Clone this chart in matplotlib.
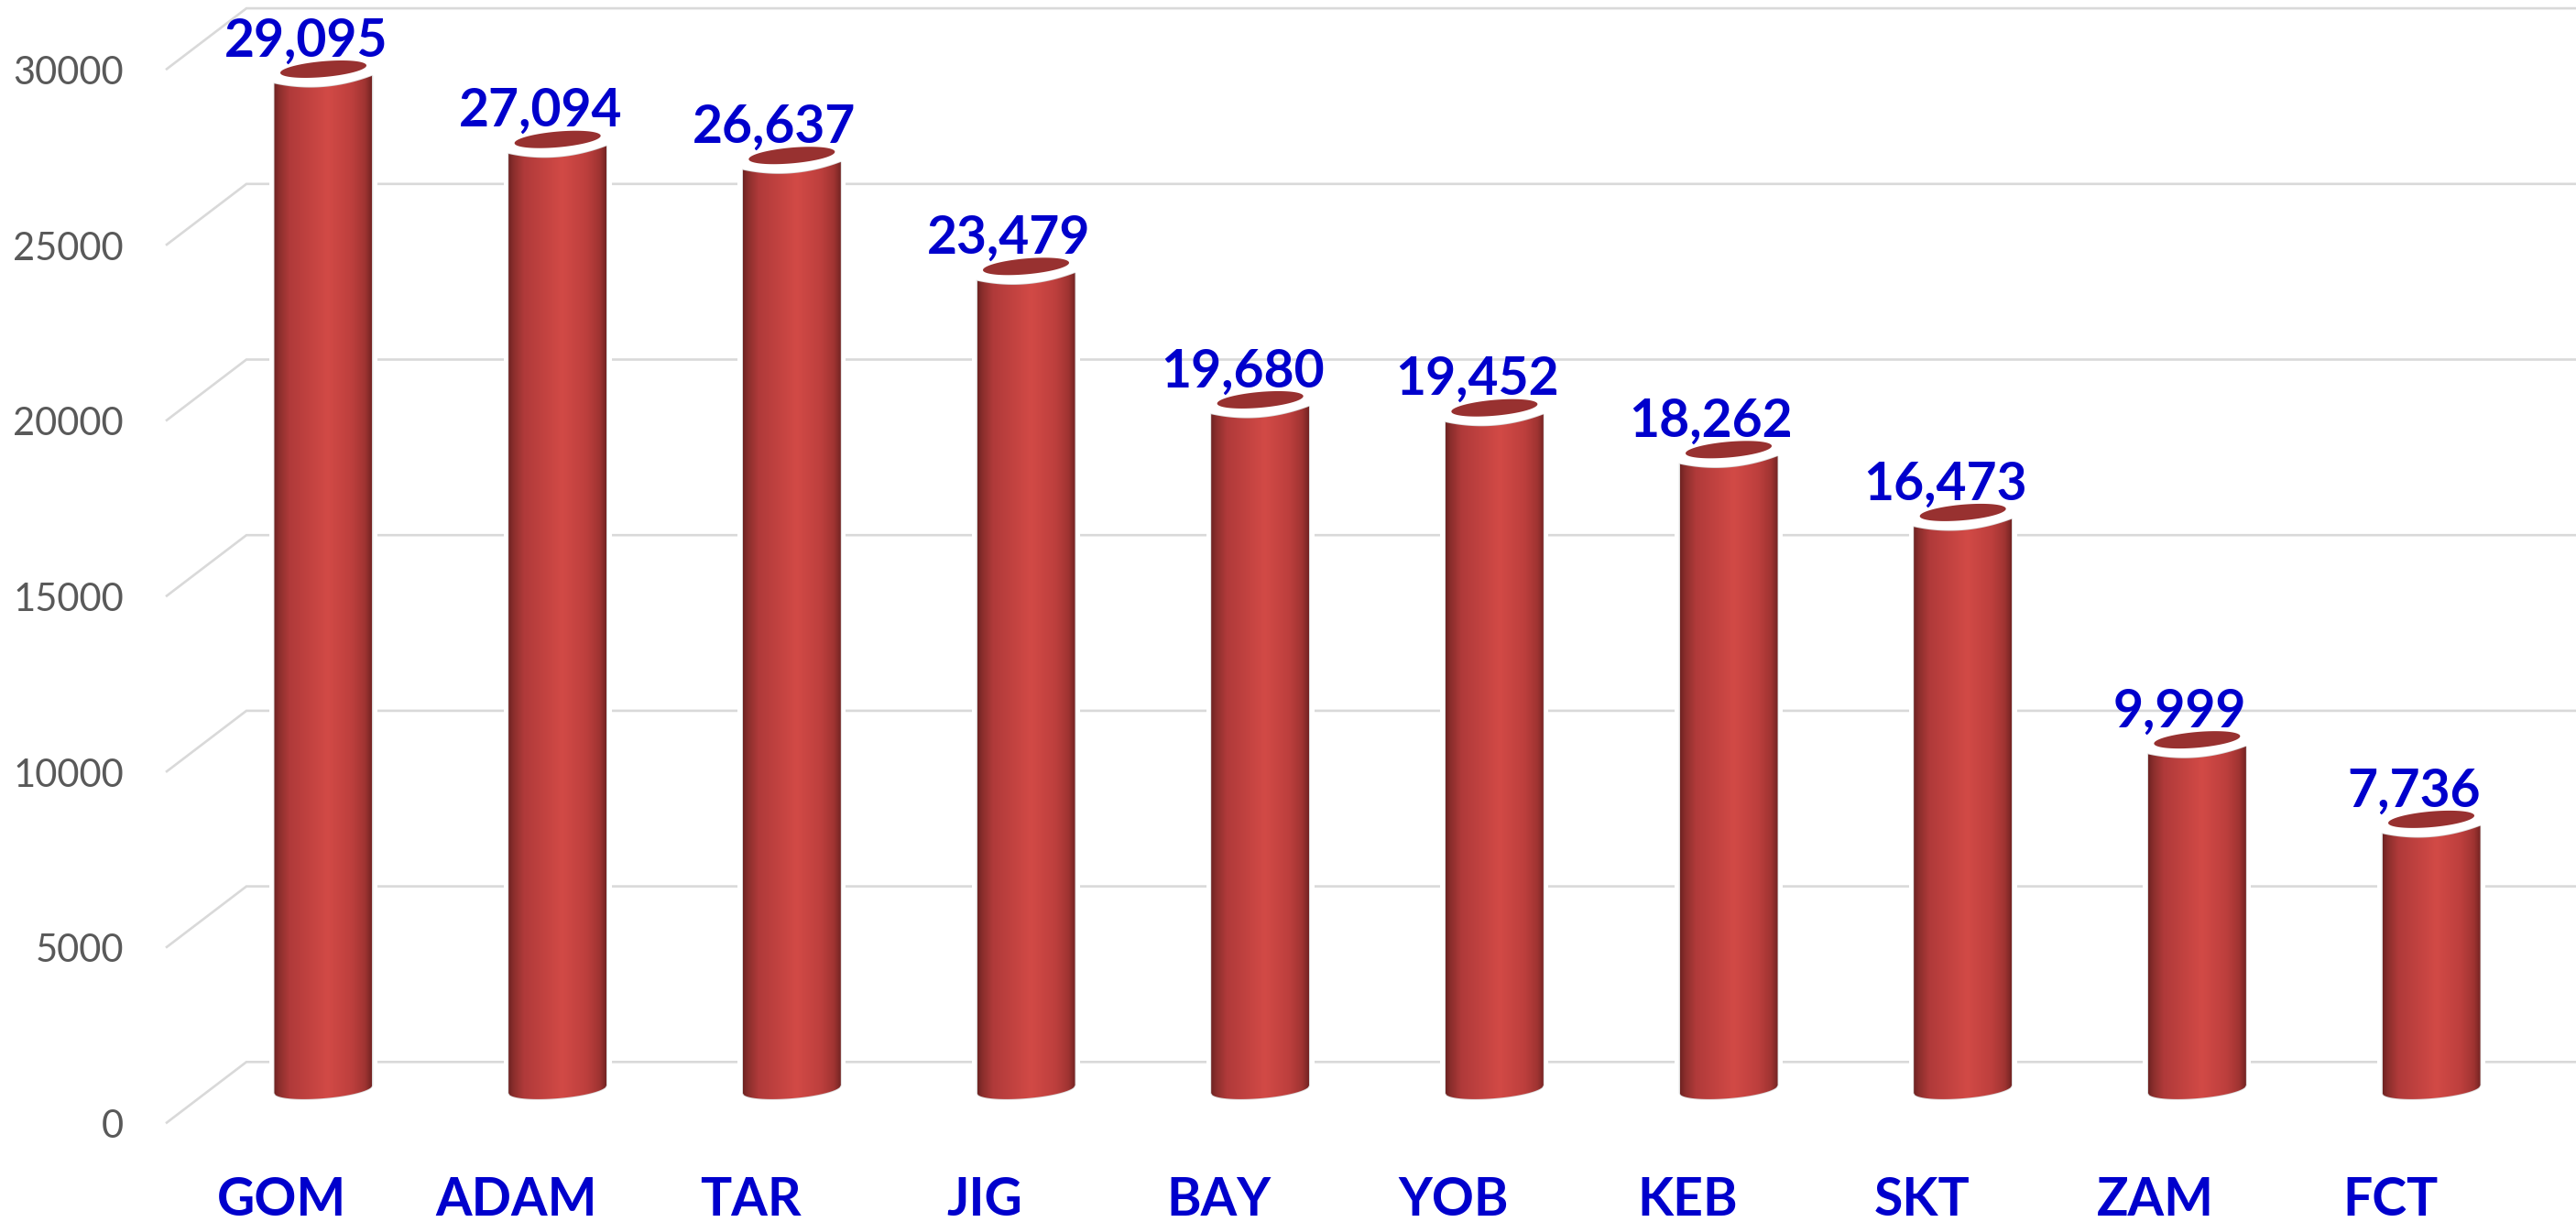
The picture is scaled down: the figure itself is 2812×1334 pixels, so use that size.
import numpy as np
import matplotlib as mpl
mpl.use('Agg')
import matplotlib.pyplot as plt
from matplotlib.patches import Polygon
from matplotlib.colors import LinearSegmentedColormap

categories = ['GOM', 'ADAM', 'TAR', 'JIG', 'BAY', 'YOB', 'KEB', 'SKT', 'ZAM', 'FCT']
values = [29095, 27094, 26637, 23479, 19680, 19452, 18262, 16473, 9999, 7736]
value_labels = ['29,095', '27,094', '26,637', '23,479', '19,680', '19,452', '18,262', '16,473', '9,999', '7,736']
y_ticks = [0, 5000, 10000, 15000, 20000, 25000, 30000]

XS = 255.67   # pixels per category
YS = 0.03834  # pixels per unit of value
X0 = 353.0    # pixel of first category
Y0 = 1191.0   # pixel of value 0, in the plane of the bars

plt.rcParams['font.family'] = ['Lato', 'DejaVu Sans']
fig = plt.figure(figsize=(28.12, 13.34), dpi=100)
ax = fig.add_axes([0, 0, 1, 1])
ax.set_xlim(-X0/XS, (2812-X0)/XS)
ax.set_ylim(-(1334-Y0)/YS, Y0/YS)
ax.axis('off')

def dx(p): return p/XS   # pixel offsets -> data
def dy(p): return -p/YS  # pixel offsets (down) -> data

# grid, back wall and the slanted side part
x_label = dx(135-X0)
x_front = dx(181-X0)
x_back = dx(269-X0)
x_end = dx(2812-X0)
for v in y_ticks:
    ax.plot([x_front, x_back, x_end], [v+dy(35.3), v+dy(-31.7), v+dy(-31.7)],
            color='#d9d9d9', linewidth=1.9, solid_capstyle='butt', solid_joinstyle='miter', zorder=1)
    ax.text(x_label, v+dy(51), str(v), ha='right', va='baseline', fontsize=30, color='#595959', zorder=6)

cmap = LinearSegmentedColormap.from_list('cyl', [(0, '#6e2322'), (0.05, '#8a2e2c'), (0.16, '#b03a3a'),
                                                 (0.55, '#d24a46'), (0.8, '#bd3f3d'), (0.93, '#a03432'),
                                                 (1, '#742423')])
grad = np.linspace(0, 1, 256).reshape(1, -1)

half = 53.5
tilt = 4.3/half  # tops lean up to the right
for i, v in enumerate(values):
    # white glow cuts the grid around the bar
    ax.fill_between([i+dx(-59), i+dx(59)], 0+dy(26), v+dy(-14), color='white', linewidth=0, zorder=2)

    xs = np.linspace(-half, half, 80)
    top = 11.5 - tilt*xs + 8.0*(1-(xs/half)**2)
    bot = -2.0 - tilt*xs + 10.0*np.sqrt(1-(xs/half)**2)
    px = np.concatenate([xs, xs[::-1]])
    py = np.concatenate([dy(top)+v, dy(bot[::-1])])
    body = Polygon(np.column_stack([i+dx(px), py]), closed=True, facecolor='none', edgecolor='#dcdcdc',
                   linewidth=1.2, zorder=3)
    ax.add_patch(body)
    im = ax.imshow(grad, cmap=cmap, extent=[i+dx(-half), i+dx(half), dy(40), v+dy(-10)],
                   aspect='auto', interpolation='bilinear', zorder=4)
    im.set_clip_path(body)

    # dark mouth of the cylinder
    t = np.linspace(0, 2*np.pi, 120)
    ex = 47.0*np.cos(t)
    ey = 8.6*np.sin(t) - 0.085*ex
    ax.add_patch(Polygon(np.column_stack([i+dx(ex), v+dy(ey)]), closed=True, facecolor='#983130',
                         edgecolor='none', zorder=4))

    ax.text(i+dx(-19), v+dy(-14), value_labels[i], ha='center', va='baseline', fontsize=41,
            fontweight='bold', color='#0000cc', zorder=7)
    ax.text(i+dx(-45), dy(1327-Y0), categories[i], ha='center', va='baseline', fontsize=41,
            fontweight='bold', color='#0000cc', zorder=7)

ax.set_xlim(-X0/XS, (2812-X0)/XS)
ax.set_ylim(-(1334-Y0)/YS, Y0/YS)
plt.savefig('out.png', dpi=100)
